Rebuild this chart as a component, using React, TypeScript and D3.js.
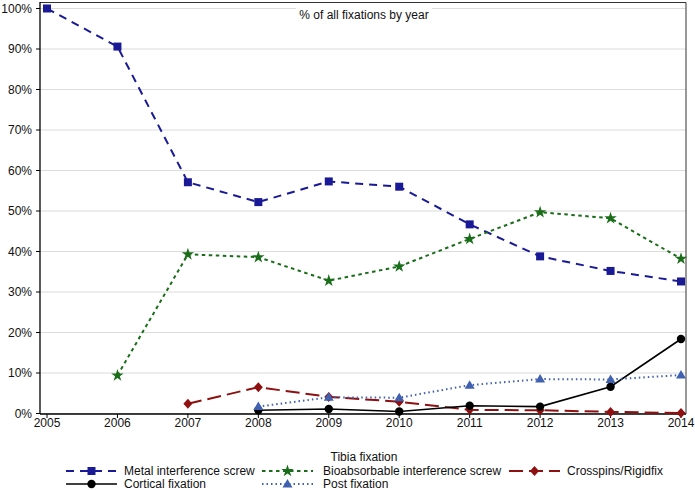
import React from "react";
import * as d3 from "d3";

const years = [2005, 2006, 2007, 2008, 2009, 2010, 2011, 2012, 2013, 2014];
const metal = [100, 90.6, 57.1, 52.2, 57.3, 56.0, 46.7, 38.8, 35.2, 32.6];
const bio = [null, 9.4, 39.3, 38.6, 32.8, 36.3, 43.1, 49.7, 48.2, 38.2];
const crosspins = [null, null, 2.4, 6.5, 4.1, 2.9, 0.9, 0.8, 0.4, 0.1];
const cortical = [null, null, null, 0.8, 1.1, 0.5, 1.9, 1.7, 6.6, 18.4];
const postFix = [null, null, null, 1.7, 4.0, 3.9, 7.0, 8.5, 8.4, 9.5];
const yTicks = [0, 10, 20, 30, 40, 50, 60, 70, 80, 90, 100];

const W = 695, H = 490;
const x = d3.scaleLinear().domain([2005, 2014]).range([47, 681]);
const y = d3.scaleLinear().domain([0, 100]).range([413.5, 8.5]);
const FONT = "'Liberation Sans', Arial, sans-serif";
const FS = 12;

type Series = { name: string; values: (number | null)[]; color: string; dash: string; marker: string; width: number };
const series: Series[] = [
  { name: "Metal interference screw", values: metal, color: "#1a1a96", dash: "8,6", marker: "square", width: 2 },
  { name: "Bioabsorbable interference screw", values: bio, color: "#1a6e1a", dash: "3.5,3.5", marker: "star", width: 2 },
  { name: "Crosspins/Rigidfix", values: crosspins, color: "#8e1010", dash: "14,6", marker: "diamond", width: 2 },
  { name: "Cortical fixation", values: cortical, color: "#000000", dash: "", marker: "circle", width: 1.6 },
  { name: "Post fixation", values: postFix, color: "#4060b0", dash: "1.5,3", marker: "triangle", width: 2 },
];

function Marker({ type, cx, cy, color }: { type: string; cx: number; cy: number; color: string }) {
  if (type === "square") return <rect x={cx - 4} y={cy - 4} width={8} height={8} fill={color} />;
  if (type === "circle") return <circle cx={cx} cy={cy} r={4.2} fill={color} />;
  if (type === "diamond") return <path d={`M${cx},${cy - 5}L${cx + 4.5},${cy}L${cx},${cy + 5}L${cx - 4.5},${cy}Z`} fill={color} />;
  if (type === "triangle") return <path d={`M${cx},${cy - 5}L${cx + 5},${cy + 3.5}L${cx - 5},${cy + 3.5}Z`} fill={color} />;
  const sym = d3.symbol(d3.symbolStar, 48)();
  return <path d={sym || ""} transform={`translate(${cx},${cy})`} fill={color} />;
}

const legendPos = [
  { sx: 66, tx: 124, y: 471 },
  { sx: 262, tx: 323, y: 471 },
  { sx: 509, tx: 567, y: 471 },
  { sx: 66, tx: 124, y: 484 },
  { sx: 262, tx: 323, y: 484 },
];

export default function App() {
  const line = d3.line<[number, number | null]>()
    .defined((d) => d[1] !== null)
    .x((d) => x(d[0]))
    .y((d) => y(d[1] as number));
  return (
    <svg width={W} height={H} style={{ position: "absolute", left: 0, top: 0 }} fontFamily={FONT}>
      <rect width={W} height={H} fill="#fff" />
      {yTicks.map((t) => (
        <line key={t} x1={40} x2={686} y1={y(t)} y2={y(t)} stroke="#dcdcdc" strokeWidth={1.2} />
      ))}
      <rect x={296} y={4} width={136} height={18} fill="#fff" />
      <text x={364} y={18.5} textAnchor="middle" fontSize={FS} fill="#111">% of all fixations by year</text>
      <line x1={40} x2={686} y1={2.5} y2={2.5} stroke="#333" strokeWidth={1} />
      <line x1={686} x2={686} y1={2.5} y2={414} stroke="#333" strokeWidth={1} />
      <line x1={40} x2={40} y1={2} y2={414} stroke="#000" strokeWidth={1.3} />
      <line x1={40} x2={686} y1={414} y2={414} stroke="#000" strokeWidth={1.3} />
      {yTicks.map((t) => (
        <g key={t}>
          <line x1={36} x2={40} y1={y(t)} y2={y(t)} stroke="#000" />
          <text x={32} y={y(t) + 4.3} textAnchor="end" fontSize={FS} fill="#111">{t}%</text>
        </g>
      ))}
      {years.map((yr) => (
        <g key={yr}>
          <line x1={x(yr)} x2={x(yr)} y1={414} y2={418} stroke="#000" />
          <text x={x(yr)} y={426.5} textAnchor="middle" fontSize={FS} fill="#111">{yr}</text>
        </g>
      ))}
      {series.map((s) => {
        const pts = years.map((yr, i) => [yr, s.values[i]] as [number, number | null]);
        return (
          <g key={s.name}>
            <path d={line(pts) || ""} fill="none" stroke={s.color} strokeWidth={s.width} strokeDasharray={s.dash} />
            {pts.filter((p) => p[1] !== null).map((p) => (
              <Marker key={p[0]} type={s.marker} cx={x(p[0])} cy={y(p[1] as number)} color={s.color} />
            ))}
          </g>
        );
      })}
      <text x={364} y={460.5} textAnchor="middle" fontSize={FS} fill="#111">Tibia fixation</text>
      {series.map((s, i) => {
        const lp = legendPos[i];
        return (
          <g key={s.name}>
            <line x1={lp.sx} x2={lp.sx + 51} y1={lp.y} y2={lp.y} stroke={s.color} strokeWidth={s.width} strokeDasharray={s.dash} />
            <Marker type={s.marker} cx={lp.sx + 25.5} cy={lp.y} color={s.color} />
            <text x={lp.tx} y={lp.y + 4.3} fontSize={FS} fill="#111">{s.name}</text>
          </g>
        );
      })}
    </svg>
  );
}
